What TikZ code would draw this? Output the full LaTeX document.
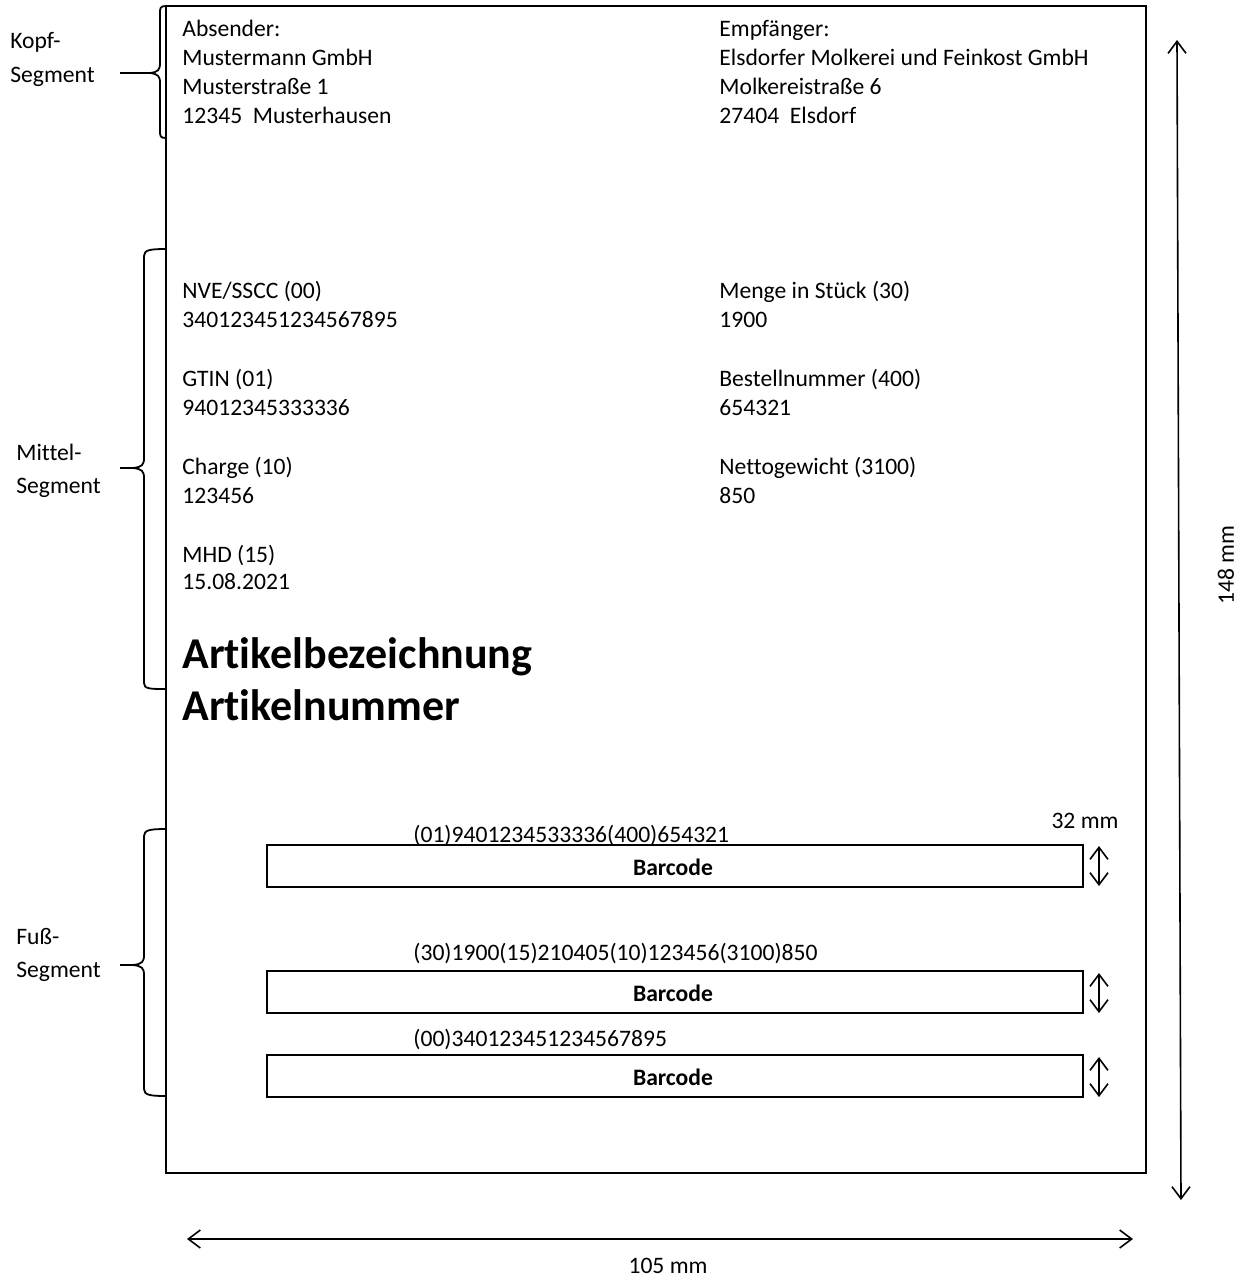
\documentclass[tikz,border=0pt]{standalone}
\usepackage{fontspec}
\setmainfont{Carlito}[Ligatures={NoCommon,NoContextual},Contextuals=NoAlternate]
\usetikzlibrary{arrows.meta}
\begin{document}
\begin{tikzpicture}[x=0.5pt,y=-0.5pt,
 txt/.style={anchor=base west,inner sep=0pt,font=\fontsize{11.8}{14}\selectfont},
 ctxt/.style={anchor=base,inner sep=0pt,font=\fontsize{11.8}{14}\selectfont},
 big/.style={anchor=base west,inner sep=0pt,font=\fontsize{22}{26}\selectfont\bfseries},
 bar/.style={draw,line width=0.9pt,minimum width=408pt,minimum height=21pt,inner sep=0pt},
 bartxt/.style={anchor=base,inner sep=0pt,font=\fontsize{11.8}{14}\selectfont\bfseries},
 ln/.style={line width=0.9pt},
 dim/.style={line width=0.8pt,{Straight Barb[length=6pt,width=9pt]}-{Straight Barb[length=6pt,width=9pt]}}
]
\useasboundingbox (0,0) rectangle (1242,1276);
% label outline
\node[draw,line width=0.9pt,minimum width=490pt,minimum height=583.5pt,inner sep=0pt] (page) at (656,589.5) {};

% braces
\draw[ln] (166,6) .. controls (160,6) and (160,8) .. (160,14) -- (160,63) .. controls (160,70) and (158,72) .. (150,73) .. controls (158,74) and (160,76) .. (160,83) -- (160,130) .. controls (160,136) and (160,138) .. (166,138);
\draw[ln] (120,73) -- (150,73);
\draw[ln] (166,249) .. controls (150,249) and (144,250) .. (144,256) -- (144,458) .. controls (144,465) and (142,467) .. (133,468) .. controls (142,469) and (144,471) .. (144,478) -- (144,683) .. controls (144,689) and (150,689) .. (166,689);
\draw[ln] (120,468) -- (133,468);
\draw[ln] (166,829) .. controls (150,829) and (144,830) .. (144,836) -- (144,955) .. controls (144,962) and (142,964) .. (133,965) .. controls (142,966) and (144,968) .. (144,975) -- (144,1089) .. controls (144,1095) and (150,1096) .. (166,1096);
\draw[ln] (120,965) -- (133,965);

\node[txt] (k1) at (10,48) {Kopf-};
\node[txt] (k2) at (10,82) {Segment};
\node[txt] (m1) at (16,460) {Mittel-};
\node[txt] (m2) at (16,493) {Segment};
\node[txt] (f1) at (16,944) {Fuß-};
\node[txt] (f2) at (16,977) {Segment};

% head
\node[txt] (a1) at (182,36) {Absender:};
\node[txt] (a2) at (182,65) {Mustermann GmbH};
\node[txt] (a3) at (182,94) {Musterstraße 1};
\node[txt] (a4) at (182,123) {12345\ \ Musterhausen};
\node[txt] (e1) at (719,36) {Empfänger:};
\node[txt] (e2) at (719,65) {Elsdorfer Molkerei und Feinkost GmbH};
\node[txt] (e3) at (719,94) {Molkereistraße 6};
\node[txt] (e4) at (719,123) {27404\ \ Elsdorf};

% middle
\node[txt] (n1) at (182,298) {NVE/SSCC (00)};
\node[txt] (n2) at (182,327) {340123451234567895};
\node[txt] (g1) at (182,386) {GTIN (01)};
\node[txt] (g2) at (182,415) {94012345333336};
\node[txt] (c1) at (182,474) {Charge (10)};
\node[txt] (c2) at (182,503) {123456};
\node[txt] (h1) at (182,562) {MHD (15)};
\node[txt] (h2) at (182,589) {15.08.2021};
\node[txt] (s1) at (719,298) {Menge in Stück (30)};
\node[txt] (s2) at (719,327) {1900};
\node[txt] (b1) at (719,386) {Bestellnummer (400)};
\node[txt] (b2) at (719,415) {654321};
\node[txt] (w1) at (719,474) {Nettogewicht (3100)};
\node[txt] (w2) at (719,503) {850};
\node[big] (art1) at (182,668) {Artikelbezeichnung};
\node[big] (art2) at (182,720) {Artikelnummer};

% footer
\node[bar] (bc1) at (675,866) {};
\node[bar] (bc2) at (675,992) {};
\node[bar] (bc3) at (675,1076) {};
\node[bartxt] at (673,875) {Barcode};
\node[bartxt] at (673,1001) {Barcode};
\node[bartxt] at (673,1085) {Barcode};
\node[txt] (d1) at (413,842) {(01)9401234533336(400)654321};
\node[txt] (d2) at (413,960) {(30)1900(15)210405(10)123456(3100)850};
\node[txt] (d3) at (413,1046) {(00)340123451234567895};
\node[ctxt] (mm32) at (1085,828) {32 mm};
\coordinate (t1) at (1099,846); \coordinate (u1) at (1099,886);
\coordinate (t2) at (1099,973); \coordinate (u2) at (1099,1013);
\coordinate (t3) at (1099,1057); \coordinate (u3) at (1099,1097);
\draw[dim] (t1) -- (u1);
\draw[dim] (t2) -- (u2);
\draw[dim] (t3) -- (u3);

% dimensions
\coordinate (vt) at (1177,40); \coordinate (vb) at (1181,1200);
\draw[dim] (vt) -- (vb);
\node[ctxt,anchor=center,rotate=90] (mm148) at (1226,565) {148 mm};
\coordinate (hl) at (187,1239); \coordinate (hr) at (1133,1239);
\draw[dim] (hl) -- (hr);
\node[ctxt] (mm105) at (668,1273) {105 mm};
\end{tikzpicture}
\end{document}
